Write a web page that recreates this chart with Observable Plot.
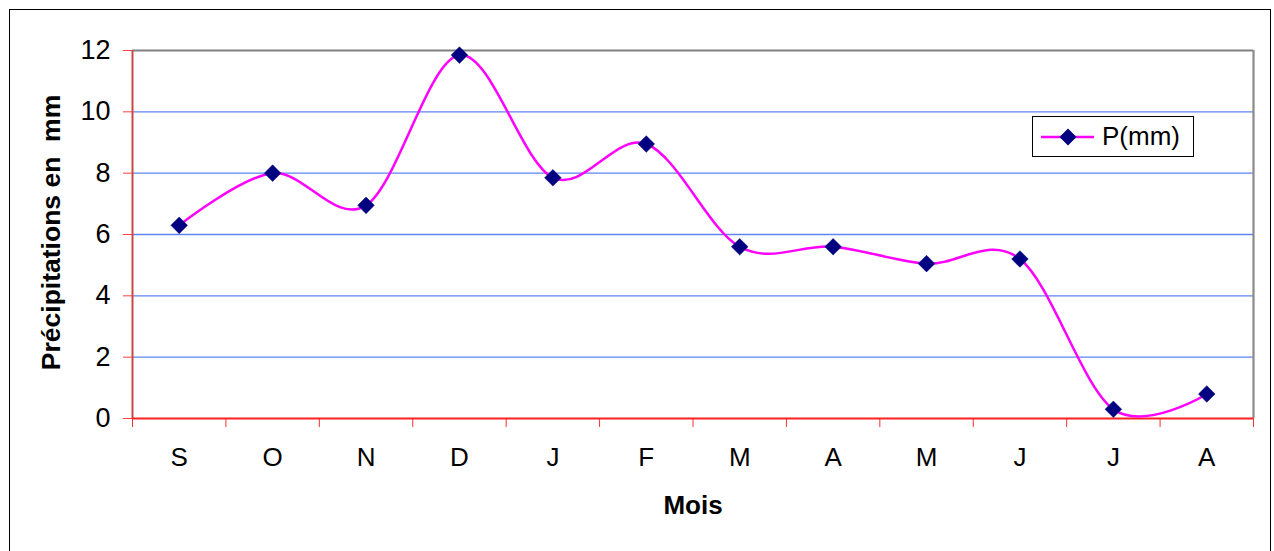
<!DOCTYPE html>
<html>
<head>
<meta charset="utf-8">
<script src="https://cdn.jsdelivr.net/npm/d3@7"></script>
<script src="https://cdn.jsdelivr.net/npm/@observablehq/plot@0.6"></script>
<style>
  html, body { margin: 0; padding: 0; background: #fff; overflow: hidden; }
  #wrap { position: relative; width: 1274px; height: 551px; }
  #outer { position: absolute; left: 9px; top: 9px; width: 1262px; height: 600px; border: 1.5px solid #000; box-sizing: border-box; }
  #chart { position: absolute; left: 0; top: 0; }
  svg text { white-space: pre; }
  #legend { position: absolute; left: 1032px; top: 116px; width: 162px; height: 41px; border: 1px solid #000; box-sizing: border-box; background: #fff;
            font-family: "Liberation Sans", Arial, sans-serif; font-size: 26px; display: flex; align-items: center; }
  #legend svg { margin-left: 8px; margin-right: 7px; }
</style>
</head>
<body>
<div id="wrap">
  <div id="outer"></div>
  <div id="chart"></div>
  <div id="legend"></div>
</div>
<script>
const months = ["S","O","N","D","J","F","M","A","M","J","J","A"];
const precip = [6.3, 8.0, 6.95, 11.85, 7.85, 8.95, 5.6, 5.6, 5.05, 5.2, 0.3, 0.8];
const yTicks = [0, 2, 4, 6, 8, 10, 12];
const gridValues = [2, 4, 6, 8, 10];
const seriesName = "P(mm)";
const xTitle = "Mois";
const yTitle = "Précipitations en  mm";

const data = months.map((m, i) => ({i, m, p: precip[i]}));
const positions = d3.range(months.length);
const boundaries = d3.range(-0.5, months.length, 1);

const lineColor = "#ff00ff";
const markerColor = "#000080";

const chart = Plot.plot({
  width: 1274,
  height: 551,
  marginLeft: 132,
  marginRight: 21,
  marginTop: 50,
  marginBottom: 133,
  style: {fontFamily: "'Liberation Sans', Arial, sans-serif", fontSize: "27px", color: "#000", background: "transparent", overflow: "visible"},
  x: {type: "linear", domain: [-0.5, months.length - 0.5]},
  y: {domain: [0, 12]},
  marks: [
    Plot.ruleY(gridValues, {stroke: "#5f82f5", strokeWidth: 1.3}),
    Plot.ruleY([12], {stroke: "#808080", strokeWidth: 2.2}),
    Plot.ruleX([months.length - 0.5], {stroke: "#8a8a8a", strokeWidth: 2.2}),
    Plot.axisY({ticks: yTicks, tickSize: 9, tickPadding: 13, stroke: "#ff4040", fontSize: 27, label: null, tickFormat: d => String(d)}),
    Plot.axisX({ticks: boundaries, tickSize: 9, stroke: "#ff3030", tickFormat: () => "", label: null}),
    Plot.axisX({ticks: positions, tickSize: 0, tickPadding: 29, fontSize: 26, tickFormat: i => months[i], label: null}),
    Plot.ruleX([-0.5], {stroke: "#c84848", strokeWidth: 2}),
    Plot.ruleY([0], {stroke: "#ff2020", strokeWidth: 2}),
    Plot.line(data, {x: "i", y: "p", curve: "cardinal", stroke: lineColor, strokeWidth: 2.5}),
    Plot.dot(data, {x: "i", y: "p", symbol: "diamond2", r: 7.5, fill: markerColor, stroke: markerColor, strokeWidth: 0.5}),
    Plot.text([xTitle], {frameAnchor: "bottom", dy: 87, fontWeight: "bold", fontSize: 26, lineAnchor: "middle"}),
    Plot.text([yTitle], {frameAnchor: "left", dx: -81, dy: -2, rotate: -90, textAnchor: "middle", fontWeight: "bold", fontSize: 26.5, lineAnchor: "middle"})
  ]
});
document.getElementById("chart").appendChild(chart);

// legend
const leg = document.getElementById("legend");
const ls = d3.create("svg").attr("width", 54).attr("height", 22);
ls.append("line").attr("x1", 0).attr("x2", 53).attr("y1", 11).attr("y2", 11).attr("stroke", lineColor).attr("stroke-width", 2.5);
ls.append("path").attr("d", d3.symbol(d3.symbolDiamond2, 184)()).attr("transform", "translate(27,11)").attr("fill", markerColor);
leg.appendChild(ls.node());
const span = document.createElement("span");
span.textContent = seriesName;
leg.appendChild(span);
</script>
</body>
</html>
